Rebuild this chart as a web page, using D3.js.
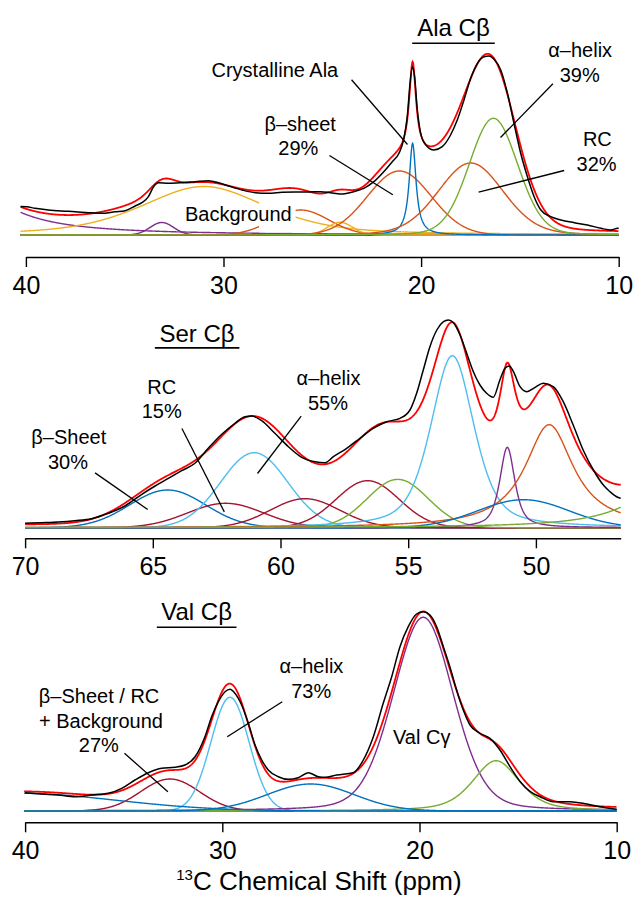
<!DOCTYPE html>
<html><head><meta charset="utf-8">
<script src="https://cdn.jsdelivr.net/npm/d3@7"></script>
<style>
body{margin:0;background:#fff}
svg{display:block}
text{font-family:"Liberation Sans",Arial,Helvetica,sans-serif;fill:#000}
</style>
</head><body>
<svg id="chart" width="634" height="899"></svg>
<script>
// ================= DATA =================
// ---- Ala Cβ panel ----
const alaTicks = [40, 30, 20, 10];
const alaPeakNames  = ["bg-left", "bg-33", "background", "bg-26", "bg-24", "beta-sheet", "crystalline", "RC", "alpha-helix"];
const alaPeakCenter = [43.85, 33.12, 31.0, 26.1, 24.1, 21.1, 20.43, 17.49, 16.34];
const alaPeakHeight = [68, 12.5, 48.5, 25, 12.7, 64, 91.7, 72, 116.7];
const alaPeakFwhm   = [5.07, 1.4, 7.5, 3.35, 1.5, 3.8, 0.42, 3.9, 2.9];
const alaPeakLorentz= [1, 0, 0.5, 0, 0, 0, 1, 0.15, 0.1];
const alaFitOffset = 1.5;
const alaObsPpm = [40.27,39.96,39.54,38.86,38.19,37.51,36.84,36.16,35.48,34.98,34.47,34.13,33.80,33.54,33.29,32.78,32.10,31.43,30.76,30.25,29.74,29.06,28.39,27.71,27.04,26.36,25.69,25.09,24.59,24.08,23.41,22.90,22.39,21.89,21.46,21.12,20.87,20.70,20.56,20.44,20.33,20.19,20.02,19.76,19.35,18.93,18.51,18.17,17.83,17.49,17.15,16.82,16.56,16.31,15.97,15.63,15.30,14.96,14.62,14.28,13.94,13.44,12.93,12.25,11.58,10.90,10.39,10.05,10.0];
const alaObsInt = [28.5,28.3,26.7,25,24,23.3,22.3,21.7,23.3,24.3,29,32.3,38.3,48.3,52.3,51.7,52.3,53.3,54.3,52.3,49,45,42.3,41.7,42.7,43,43,43.3,42.3,41,43.3,46.7,53.3,63.3,73.3,81.7,96.7,118.3,151.7,168.3,158.3,125,101.7,90,85,88.3,100,115,135,156.7,171.7,178.3,179,175.7,165,141.7,111.7,81.7,58.3,38.3,25,18.3,15,12.3,10,6.7,5,6.7,6.5];

// ---- Ser Cβ panel ----
const serTicks = [70, 65, 60, 55, 50];
const serPeakNames  = ["beta-sheet", "RC", "alpha-helix", "c59", "c56.6", "c55.4", "c53.3", "c51.1", "c49.5", "c50.5", "c45"];
const serPeakCenter = [64.42, 62.15, 61.03, 59.04, 56.59, 55.41, 53.27, 51.12, 49.48, 50.49, 45.0];
const serPeakHeight = [37.7, 24.4, 75, 29, 47, 48.3, 172, 80.4, 103, 28, 38.2];
const serPeakFwhm   = [3.5, 3.5, 3.1, 3.2, 2.9, 2.8, 2.0, 0.7, 2.3, 4.2, 3.6];
const serPeakLorentz= [0, 0, 0, 0, 0, 0, 0.5, 0.7, 1, 0, 1];
const serFitOffset = 2.5;
const serObsPpm = [70.0,69.35,68.70,68.05,67.39,66.74,66.09,65.43,64.91,64.39,63.87,63.35,62.83,62.30,61.78,61.39,61.13,60.74,60.22,59.69,59.17,58.65,58.26,57.93,57.41,56.89,56.37,55.84,55.32,54.93,54.67,54.41,54.15,53.88,53.62,53.43,53.23,52.97,52.71,52.45,52.19,51.93,51.67,51.41,51.21,51.04,50.88,50.62,50.36,50.03,49.71,49.32,48.93,48.54,48.15,47.75,47.36,47.10,46.80,46.68];
const serObsInt = [4.4,5,5.7,7,9,14.4,21.7,33.4,41.7,49.4,57,64.4,79.4,93.4,104.4,111,111.7,107,94.4,81,70.4,66,65,71,79.4,89.4,99.4,106,109.4,117.7,134.4,157.7,181,197.7,206,207.7,205,192.7,174.4,156,142.7,134.4,130.4,147.7,159.4,161.7,156,141,136,140.4,144.4,141,126,102.7,77.7,57.7,42.7,36,30.4,29.5];

// ---- Val Cβ panel ----
const valTicks = [40, 30, 20, 10];
const valPeakNames  = ["beta/RC", "alpha-helix", "Val Cgamma", "c16", "bg-left", "c25.5"];
const valPeakCenter = [32.65, 29.61, 19.81, 16.12, 40.5, 25.52];
const valPeakHeight = [32, 113.7, 193.7, 50.3, 17.8, 27];
const valPeakFwhm   = [3.5, 2.28, 3.6, 2.8, 12, 5.2];
const valPeakLorentz= [0, 0, 0.2, 0.5, 0, 0];
const valFitOffset = 1.5;
const valObsPpm = [40.0,39.16,38.32,37.47,36.62,35.78,35.10,34.43,33.75,33.07,32.40,31.89,31.38,30.88,30.54,30.20,29.86,29.61,29.36,29.02,28.68,28.34,28.00,27.67,27.16,26.65,26.15,25.64,25.13,24.79,24.20,23.36,22.85,22.34,21.84,21.41,20.99,20.57,20.15,19.81,19.47,19.13,18.79,18.46,18.12,17.78,17.44,16.93,16.43,15.92,15.41,14.89,14.38,13.88,13.21,12.37,11.52,10.68,10.0];
const valObsInt = [18.3,17,16,14.3,16,17.7,22.7,31,38.3,42.7,43.7,46,54.3,74.3,94.3,109.3,119.3,121.7,117.7,106,87.7,66,51,41,34.3,31.7,33.3,38.3,34.3,33.7,36,38.3,51,74.3,107.7,134.3,164.3,184.3,197,199.3,196,184.3,164.3,144.3,121,101,86,77.7,72.7,61,44.3,29.3,19.3,14.3,9.3,9.3,7,3.7,1.7];

// ================= STYLE / LAYOUT =================
const C = {blue:"#0072BD", orange:"#D95319", yellow:"#EDB120", purple:"#7E2F8E",
           green:"#77AC30", lblue:"#4DBEEE", dred:"#A2142F"};
const alaColors = [C.purple, C.purple, C.yellow, C.orange, C.yellow, C.orange, C.blue, C.orange, C.green];
const serColors = [C.blue, C.dred, C.lblue, C.dred, C.dred, C.green, C.lblue, C.purple, C.orange, C.blue, C.green];
const valColors = [C.dred, C.lblue, C.purple, C.green, C.blue, C.blue];

const panels = [
  { name:"Ala", ticks:alaTicks, domain:[40,10], xRange:[25.9,618.7], drawRange:[40.27,10], base:235, axisY:257,
    center:alaPeakCenter, height:alaPeakHeight, fwhm:alaPeakFwhm, eta:alaPeakLorentz, colors:alaColors, offset:alaFitOffset,
    obsPpm:alaObsPpm, obsInt:alaObsInt, zeroColor:C.dred,
    title:{t:"Ala Cβ", ppm:18.36, v:199.5, ul:[20.45,16.27], ulv:191.8},
    labels:[
      {t:"Crystalline Ala", ppm:27.4, v:158.5},
      {t:"β–sheet", ppm:26.12, v:104.5}, {t:"29%", ppm:26.21, v:80.2},
      {t:"α–helix", ppm:11.95, v:177.8}, {t:"39%", ppm:11.97, v:152.8},
      {t:"RC", ppm:11.08, v:89.5}, {t:"32%", ppm:11.12, v:64.5}],
    leaders:[[23.52,155.2,20.69,90.5],[24.64,79.5,21.43,40.3],[13.33,151.2,15.98,97.5],[12.76,64.5,17.09,42.8]],
    masked:{t:"Background", ppm:29.25, v:14.5, mask:[28.2,26.35,2.5,35]}
  },
  { name:"Ser", ticks:serTicks, domain:[70,46.68], xRange:[25.1,620.7], drawRange:[70,46.68], base:527.7, axisY:538.3,
    center:serPeakCenter, height:serPeakHeight, fwhm:serPeakFwhm, eta:serPeakLorentz, colors:serColors, offset:serFitOffset,
    obsPpm:serObsPpm, obsInt:serObsInt, zeroColor:C.dred,
    title:{t:"Ser Cβ", ppm:63.27, v:185.8, ul:[64.92,61.61], ulv:179.8},
    labels:[
      {t:"β–Sheet", ppm:68.29, v:84.2}, {t:"30%", ppm:68.32, v:59.2},
      {t:"RC", ppm:64.65, v:134.2}, {t:"15%", ppm:64.65, v:109.8},
      {t:"α–helix", ppm:58.12, v:142.5}, {t:"55%", ppm:58.14, v:117.5}],
    leaders:[[67.26,54.8,65.2,18.2],[63.86,99.2,62.2,15.8],[59.19,111.5,60.9,54.2]]
  },
  { name:"Val", ticks:valTicks, domain:[40,10], xRange:[25.1,616.7], drawRange:[40.05,10], base:811, axisY:822.3,
    center:valPeakCenter, height:valPeakHeight, fwhm:valPeakFwhm, eta:valPeakLorentz, colors:valColors, offset:valFitOffset,
    obsPpm:valObsPpm, obsInt:valObsInt, zeroColor:C.blue,
    title:{t:"Val Cβ", ppm:31.3, v:191, ul:[33.32,29.28], ulv:183.7},
    labels:[
      {t:"β–Sheet / RC", ppm:36.25, v:108.3}, {t:"+ Background", ppm:36.15, v:83.3}, {t:"27%", ppm:36.26, v:58.7},
      {t:"α–helix", ppm:25.48, v:137.7}, {t:"73%", ppm:25.49, v:112.7},
      {t:"Val Cγ", ppm:19.89, v:66.7}],
    leaders:[[34.96,57.7,32.76,19.3],[26.96,109.3,29.75,74.3]],
    xTitle:true
  }
];

// ================= DRAW =================
const svg = d3.select("#chart");
svg.append("rect").attr("width",634).attr("height",899).attr("fill","#fff");

function pv(p, c, h, w, eta){
  const d = p - c, u = 4*d*d/(w*w);
  return h*((1-eta)*Math.exp(-Math.LN2*u) + eta/(1+u));
}

panels.forEach(P => {
  const g = svg.append("g");
  const x = d3.scaleLinear().domain(P.domain).range(P.xRange);
  const y = d3.scaleLinear().domain([0,200]).range([P.base, P.base-200]);
  const lo = Math.min(...P.drawRange), hi = Math.max(...P.drawRange);
  const grid = d3.range(hi, lo - 1e-9, -0.02);
  const line = d3.line().x(d => x(d[0])).y(d => y(d[1]));

  // zero line
  g.append("path").datum([[hi,0],[lo,0]]).attr("d", line)
    .attr("fill","none").attr("stroke", P.zeroColor).attr("stroke-width",1.6);

  // components
  P.center.forEach((c,i) => {
    const pts = grid.map(p => [p, pv(p, c, P.height[i], P.fwhm[i], P.eta[i])]);
    g.append("path").datum(pts).attr("d", line)
      .attr("fill","none").attr("stroke", P.colors[i]).attr("stroke-width",1.4);
  });

  // fit
  const fit = grid.map(p => {
    let s = P.offset;
    P.center.forEach((c,i) => { s += pv(p, c, P.height[i], P.fwhm[i], P.eta[i]); });
    return [p, s];
  });
  g.append("path").datum(fit).attr("d", line)
    .attr("fill","none").attr("stroke","#ff0000").attr("stroke-width",1.8);

  // observed
  const obs = P.obsPpm.map((p,i) => [p, P.obsInt[i]]);
  g.append("path").datum(obs).attr("d", line.curve(d3.curveMonotoneX))
    .attr("fill","none").attr("stroke","#000").attr("stroke-width",1.5).attr("stroke-linejoin","round");
  line.curve(d3.curveLinear);

  // masked label (white box hiding curve pieces)
  if (P.masked){
    const m = P.masked.mask;
    g.append("rect").attr("x", x(m[0])).attr("width", x(m[1]) - x(m[0]))
      .attr("y", y(m[3])).attr("height", y(m[2]) - y(m[3])).attr("fill","#fff");
    g.append("text").attr("x", x(P.masked.ppm)).attr("y", y(P.masked.v))
      .attr("text-anchor","middle").attr("font-size",20).text(P.masked.t);
  }

  // axis
  const ax = g.append("g").attr("transform", `translate(0,${P.axisY})`)
    .call(d3.axisBottom(x).tickValues(P.ticks).tickSize(10).tickSizeOuter(0).tickPadding(9).tickFormat(d3.format("d")));
  ax.select(".domain").attr("stroke","#000").attr("stroke-width",1.4);
  ax.selectAll(".tick line").attr("stroke","#000").attr("stroke-width",1.4);
  ax.selectAll(".tick text").attr("font-size",25).attr("font-family","'Liberation Sans',Arial,sans-serif").attr("fill","#000");

  // title with underline
  g.append("text").attr("x", x(P.title.ppm)).attr("y", y(P.title.v))
    .attr("text-anchor","middle").attr("font-size",24).text(P.title.t);
  g.append("line").attr("x1", x(P.title.ul[0])).attr("x2", x(P.title.ul[1]))
    .attr("y1", y(P.title.ulv)).attr("y2", y(P.title.ulv)).attr("stroke","#000").attr("stroke-width",1.6);

  // labels
  P.labels.forEach(L => {
    g.append("text").attr("x", x(L.ppm)).attr("y", y(L.v))
      .attr("text-anchor","middle").attr("font-size",20).text(L.t);
  });
  P.leaders.forEach(l => {
    g.append("line").attr("x1", x(l[0])).attr("y1", y(l[1])).attr("x2", x(l[2])).attr("y2", y(l[3]))
      .attr("stroke","#000").attr("stroke-width",1.3);
  });

  if (P.xTitle){
    const t = g.append("text").attr("x", x(25.1)).attr("y", P.axisY + 68)
      .attr("text-anchor","middle").attr("font-size",26);
    t.append("tspan").attr("font-size",15).attr("dy",-10).text("13");
    t.append("tspan").attr("dy",10).text("C Chemical Shift (ppm)");
  }
});
</script>
</body></html>
